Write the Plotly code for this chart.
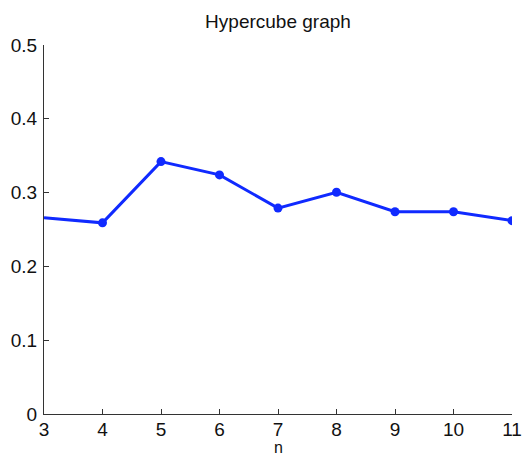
import plotly.graph_objects as go

# Hypercube graph: measured value for each dimension n
n_values = [3, 4, 5, 6, 7, 8, 9, 10, 11]
measure = [0.266, 0.259, 0.342, 0.324, 0.279, 0.3005, 0.274, 0.274, 0.262]
# the first point sits on the axis line and carries no marker
marker_sizes = [0, 9, 9, 9, 9, 9, 9, 9, 9]

x_ticks = [3, 4, 5, 6, 7, 8, 9, 10, 11]
y_ticks = [0, 0.1, 0.2, 0.3, 0.4, 0.5]

blue = "rgb(16,42,255)"
font_family = "Liberation Sans, Arial, Helvetica, sans-serif"

fig = go.Figure()
fig.add_trace(go.Scatter(
    x=n_values,
    y=measure,
    mode="lines+markers",
    line=dict(color=blue, width=3),
    marker=dict(color=blue, size=marker_sizes, opacity=1, line=dict(width=0, color=blue)),
    cliponaxis=True,
    showlegend=False,
))

axis_common = dict(
    showgrid=False,
    zeroline=False,
    showline=True,
    linecolor="#333333",
    linewidth=1,
    ticks="inside",
    ticklen=5,
    tickwidth=1,
    tickcolor="#333333",
    tickfont=dict(family=font_family, size=19, color="#111111"),
    mirror=False,
    automargin=False,
)

fig.update_layout(
    width=523,
    height=457,
    margin=dict(l=44, r=11, t=45, b=43),
    paper_bgcolor="white",
    plot_bgcolor="white",
    title=dict(
        text="Hypercube graph",
        x=0.5,
        xref="paper",
        y=0.953,
        yref="container",
        xanchor="center",
        yanchor="middle",
        font=dict(family=font_family, size=19, color="#111111"),
    ),
    xaxis=dict(
        range=[3, 11],
        tickvals=x_ticks,
        ticktext=[str(v) for v in x_ticks],
        ticklabelstandoff=-2,
        **axis_common,
    ),
    yaxis=dict(
        range=[0, 0.5],
        tickvals=y_ticks,
        ticktext=["0", "0.1", "0.2", "0.3", "0.4", "0.5"],
        ticklabelstandoff=2,
        **axis_common,
    ),
)

# x-axis label placed below the tick labels, box resting on the page's lower edge
fig.add_annotation(
    text="n",
    x=0.5, xref="paper",
    y=0, yref="paper",
    yanchor="bottom",
    yshift=-43,
    borderpad=0,
    showarrow=False,
    font=dict(family=font_family, size=16, color="#111111"),
)

fig.write_html("out.html")
